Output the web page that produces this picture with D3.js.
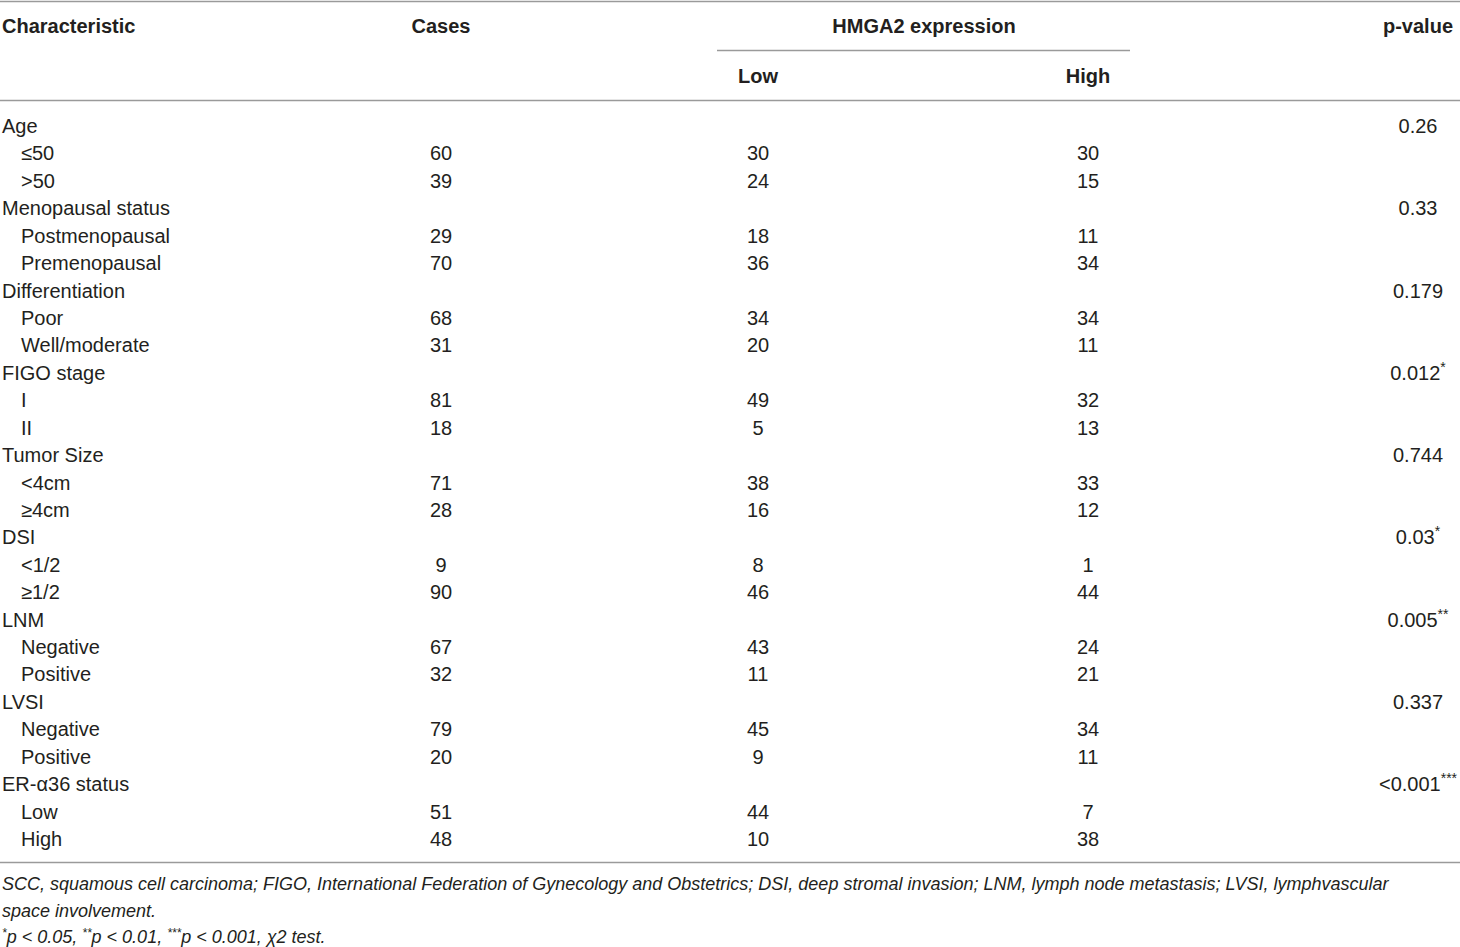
<!DOCTYPE html>
<html>
<head>
<meta charset="utf-8">
<script src="https://cdn.jsdelivr.net/npm/d3@7"></script>
<style>
  body { margin: 0; background: #fff; }
  svg text { font-family: "Liberation Sans", Arial, sans-serif; fill: #231f20; }
</style>
</head>
<body>
<div id="containerTable"></div>
<script>
// table content
var groups = ["Age", "Menopausal status", "Differentiation", "FIGO stage", "Tumor Size", "DSI", "LNM", "LVSI", "ER-\u03b136 status"];
var pValues = ["0.26", "0.33", "0.179", "0.012*", "0.744", "0.03*", "0.005**", "0.337", "<0.001***"];
var subgroups = [["\u226450", ">50"], ["Postmenopausal", "Premenopausal"], ["Poor", "Well/moderate"], ["I", "II"],
    ["<4cm", "\u22654cm"], ["<1/2", "\u22651/2"], ["Negative", "Positive"], ["Negative", "Positive"], ["Low", "High"]];
var cases = [[60, 39], [29, 70], [68, 31], [81, 18], [71, 28], [9, 90], [67, 32], [79, 20], [51, 48]];
var lowExpr = [[30, 24], [18, 36], [34, 20], [49, 5], [38, 16], [8, 46], [43, 11], [45, 9], [44, 10]];
var highExpr = [[30, 15], [11, 34], [34, 11], [32, 13], [33, 12], [1, 44], [24, 21], [34, 11], [7, 38]];
var columns = ["label", "cases", "low", "high", "p"];
// footnote lines, "^" marks superscript parts
var footnotes = [
    ["SCC, squamous cell carcinoma; FIGO, International Federation of Gynecology and Obstetrics; DSI, deep stromal invasion; LNM, lymph node metastasis; LVSI, lymphvascular"],
    ["space involvement."],
    ["^*", "p < 0.05, ", "^**", "p < 0.01, ", "^***", "p < 0.001, \u03c72 test."]
];

var width = 1460, height = 947;

// flatten the groups into rows
var rows = [];
groups.forEach(function (g, i) {
    rows.push({ label: g, indent: false, p: pValues[i] });
    subgroups[i].forEach(function (s, j) {
        rows.push({ label: s, indent: true, cases: cases[i][j], low: lowExpr[i][j], high: highExpr[i][j] });
    });
});

var svg = d3.select("#containerTable").append("svg")
    .attr("width", width)
    .attr("height", height);

// column centres
var x = d3.scaleOrdinal().domain(columns).range([2, 441, 758, 1088, 1418]);
var y = d3.scalePoint().domain(d3.range(rows.length)).range([126, 839]);

// rules
var rules = [
    { x1: 0, x2: width, y: 1.5 },
    { x1: 717, x2: 1130, y: 50.5 },
    { x1: 0, x2: width, y: 100.5 },
    { x1: 0, x2: width, y: 862.5 }
];
svg.selectAll("line.rule").data(rules).enter().append("line")
    .attr("class", "rule")
    .attr("x1", function (d) { return d.x1; })
    .attr("x2", function (d) { return d.x2; })
    .attr("y1", function (d) { return d.y; })
    .attr("y2", function (d) { return d.y; })
    .attr("stroke", "#9a9a9a")
    .attr("stroke-width", 1.3);

// header
var header = [
    { t: "Characteristic", x: x("label"), y: 26, a: "start" },
    { t: "Cases", x: x("cases"), y: 26, a: "middle" },
    { t: "HMGA2 expression", x: 924, y: 26, a: "middle" },
    { t: "p-value", x: x("p"), y: 26, a: "middle" },
    { t: "Low", x: x("low"), y: 76, a: "middle" },
    { t: "High", x: x("high"), y: 76, a: "middle" }
];
svg.selectAll("text.head").data(header).enter().append("text")
    .attr("class", "head")
    .attr("x", function (d) { return d.x; })
    .attr("y", function (d) { return d.y; })
    .attr("dy", "0.35em")
    .attr("text-anchor", function (d) { return d.a; })
    .attr("font-size", 20)
    .attr("font-weight", "bold")
    .text(function (d) { return d.t; });

// body rows
var rowG = svg.selectAll("g.row").data(rows).enter().append("g")
    .attr("class", "row")
    .attr("transform", function (d, i) { return "translate(0," + y(i) + ")"; });

rowG.append("text")
    .attr("x", function (d) { return d.indent ? 21 : x("label"); })
    .attr("dy", "0.35em")
    .attr("font-size", 20)
    .text(function (d) { return d.label; });

["cases", "low", "high"].forEach(function (c) {
    rowG.filter(function (d) { return d[c] !== undefined; })
        .append("text")
        .attr("x", x(c))
        .attr("dy", "0.35em")
        .attr("text-anchor", "middle")
        .attr("font-size", 20)
        .text(function (d) { return d[c]; });
});

// p-values with superscript stars
var pText = rowG.filter(function (d) { return d.p !== undefined; })
    .append("text")
    .attr("x", x("p"))
    .attr("dy", "0.35em")
    .attr("text-anchor", "middle")
    .attr("font-size", 20);
pText.append("tspan").text(function (d) { return d.p.replace(/\*+$/, ""); });
pText.append("tspan")
    .attr("dy", -8)
    .attr("font-size", 14)
    .text(function (d) { var m = d.p.match(/\*+$/); return m ? m[0] : ""; });

// footnotes
var footText = svg.selectAll("text.foot").data(footnotes).enter().append("text")
    .attr("class", "foot")
    .attr("x", 2)
    .attr("y", function (d, i) { return 890 + i * 26.5; })
    .attr("font-size", 18)
    .attr("font-style", "italic");
footText.each(function (parts) {
    var t = d3.select(this);
    var sup = false;
    parts.forEach(function (p) {
        var isSup = p.charAt(0) === "^";
        var ts = t.append("tspan").text(isSup ? p.slice(1) : p);
        if (isSup && !sup) { ts.attr("dy", -6).attr("font-size", 12); }
        if (!isSup && sup) { ts.attr("dy", 6); }
        sup = isSup;
    });
});
</script>
</body>
</html>
